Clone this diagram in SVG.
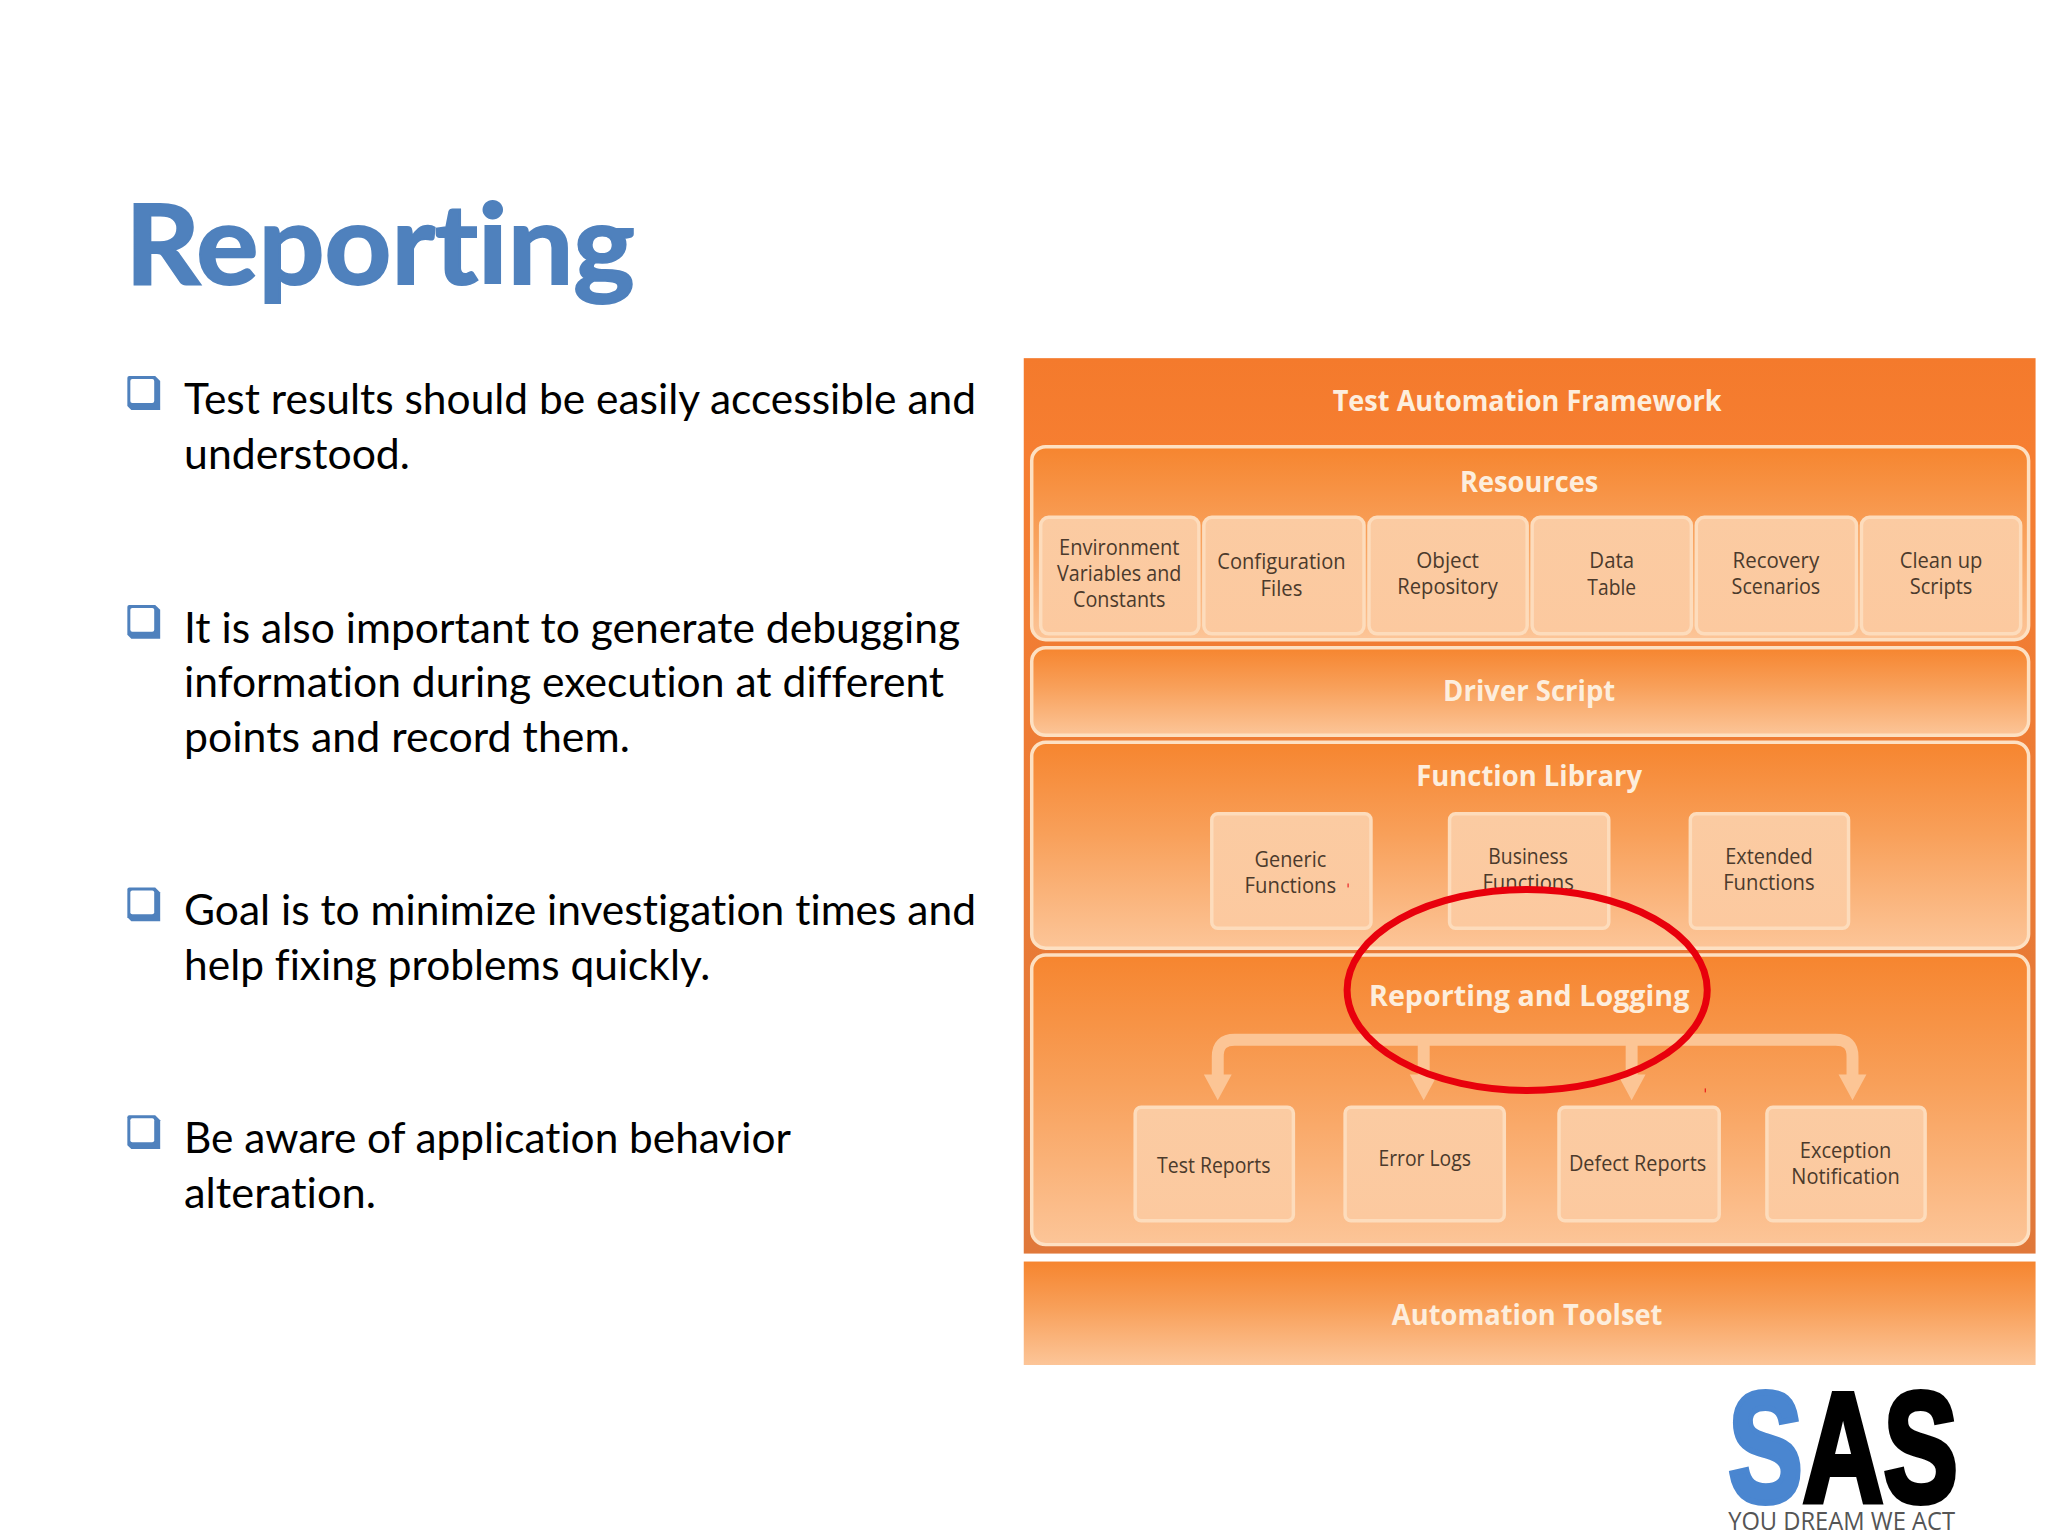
<svg xmlns="http://www.w3.org/2000/svg" width="2048" height="1536" viewBox="0 0 2048 1536">
<style>
text{font-variant-ligatures:none}
.title{font-family:"Lato","Liberation Sans",sans-serif;font-weight:700;font-size:112px;fill:#4f81bd;stroke:#4f81bd;stroke-width:2}
.body{font-family:"Lato","Liberation Sans",sans-serif;font-size:43px;fill:#000}
.hd{font-family:"Open Sans","Liberation Sans",sans-serif;font-weight:700;font-size:29px;fill:#fdeedd;text-anchor:middle}
.bx{font-family:"Open Sans","Liberation Sans",sans-serif;font-size:21px;fill:#4b3a2c;text-anchor:middle}
.panel{fill:url(#pg);stroke:#fde0c2;stroke-width:3.5}
.box{fill:url(#bg);stroke:#fddcbc;stroke-width:3.5}
.bar{fill:none;stroke:#fcc595;stroke-width:12}
.head{fill:#fcc595}
.bul{fill:#4f81bd}
.bulin{fill:#fff}
</style>
<defs>
<linearGradient id="fg" x1="0" y1="0" x2="0" y2="1"><stop offset="0" stop-color="#f47a2c"/><stop offset="0.1" stop-color="#f67e31"/><stop offset="1" stop-color="#e0783a"/></linearGradient>
<linearGradient id="pg" x1="0" y1="0" x2="0" y2="1"><stop offset="0" stop-color="#f6852f"/><stop offset="0.45" stop-color="#f8a05a"/><stop offset="1" stop-color="#fcc598"/></linearGradient>
<linearGradient id="bg" x1="0" y1="0" x2="0" y2="1"><stop offset="0" stop-color="#fbcba2"/><stop offset="1" stop-color="#fcc99f"/></linearGradient>
<clipPath id="outside"><path clip-rule="evenodd" d="M1000 700H2048V1300H1000ZM1354 995a181 101 0 1 0 362 0a181 101 0 1 0 -362 0Z"/></clipPath>
</defs>
<rect width="2048" height="1536" fill="#fff"/>
<g transform="scale(0.9949)">
<g id="title"><text class="title" x="126" y="285" textLength="512" lengthAdjust="spacingAndGlyphs">Reporting</text></g>
<g id="bullets">
<g id="bullet-1"><path class="bul" d="M128 380q0-2 2-2h26l5 5v29h-29l-4-4z"/><rect class="bulin" x="131" y="381" width="24" height="24" rx="2"/>
<text class="body" x="185" y="416" textLength="796" lengthAdjust="spacingAndGlyphs">Test results should be easily accessible and</text>
<text class="body" x="185" y="471" textLength="227" lengthAdjust="spacingAndGlyphs">understood.</text></g>
<g id="bullet-2"><path class="bul" d="M128 610q0-2 2-2h26l5 5v29h-29l-4-4z"/><rect class="bulin" x="131" y="611" width="24" height="24" rx="2"/>
<text class="body" x="185" y="646" textLength="780" lengthAdjust="spacingAndGlyphs">It is also important to generate debugging</text>
<text class="body" x="185" y="701" textLength="764" lengthAdjust="spacingAndGlyphs">information during execution at different</text>
<text class="body" x="185" y="756" textLength="448" lengthAdjust="spacingAndGlyphs">points and record them.</text></g>
<g id="bullet-3"><path class="bul" d="M128 894q0-2 2-2h26l5 5v29h-29l-4-4z"/><rect class="bulin" x="131" y="895" width="24" height="24" rx="2"/>
<text class="body" x="185" y="930" textLength="796" lengthAdjust="spacingAndGlyphs">Goal is to minimize investigation times and</text>
<text class="body" x="185" y="985" textLength="529" lengthAdjust="spacingAndGlyphs">help fixing problems quickly.</text></g>
<g id="bullet-4"><path class="bul" d="M128 1123q0-2 2-2h26l5 5v29h-29l-4-4z"/><rect class="bulin" x="131" y="1124" width="24" height="24" rx="2"/>
<text class="body" x="185" y="1159" textLength="610" lengthAdjust="spacingAndGlyphs">Be aware of application behavior</text>
<text class="body" x="185" y="1214" textLength="193" lengthAdjust="spacingAndGlyphs">alteration.</text></g>
</g>
<g id="framework"><rect x="1029" y="360" width="1017" height="900" fill="url(#fg)"/>
<text class="hd" x="1535" y="413" textLength="391" lengthAdjust="spacingAndGlyphs">Test Automation Framework</text></g>
<g id="resources"><rect class="panel" x="1037" y="449" width="1002" height="194" rx="14"/>
<text class="hd" x="1537" y="495" textLength="139" lengthAdjust="spacingAndGlyphs">Resources</text></g>
<g id="env"><rect class="box" x="1046" y="520" width="159" height="117" rx="8"/><text class="bx" x="1125" y="558" textLength="121" lengthAdjust="spacingAndGlyphs">Environment</text><text class="bx" x="1125" y="584" textLength="125" lengthAdjust="spacingAndGlyphs">Variables and</text><text class="bx" x="1125" y="610" textLength="93" lengthAdjust="spacingAndGlyphs">Constants</text></g>
<g id="config"><rect class="box" x="1210" y="520" width="161" height="117" rx="8"/><text class="bx" x="1288" y="572" textLength="129" lengthAdjust="spacingAndGlyphs">Configuration</text><text class="bx" x="1288" y="599" textLength="42" lengthAdjust="spacingAndGlyphs">Files</text></g>
<g id="object"><rect class="box" x="1376" y="520" width="159" height="117" rx="8"/><text class="bx" x="1455" y="571" textLength="63" lengthAdjust="spacingAndGlyphs">Object</text><text class="bx" x="1455" y="597" textLength="101" lengthAdjust="spacingAndGlyphs">Repository</text></g>
<g id="data"><rect class="box" x="1540" y="520" width="160" height="117" rx="8"/><text class="bx" x="1620" y="571" textLength="45" lengthAdjust="spacingAndGlyphs">Data</text><text class="bx" x="1620" y="598" textLength="49" lengthAdjust="spacingAndGlyphs">Table</text></g>
<g id="recovery"><rect class="box" x="1705" y="520" width="161" height="117" rx="8"/><text class="bx" x="1785" y="571" textLength="87" lengthAdjust="spacingAndGlyphs">Recovery</text><text class="bx" x="1785" y="597" textLength="89" lengthAdjust="spacingAndGlyphs">Scenarios</text></g>
<g id="cleanup"><rect class="box" x="1871" y="520" width="160" height="117" rx="8"/><text class="bx" x="1951" y="571" textLength="83" lengthAdjust="spacingAndGlyphs">Clean up</text><text class="bx" x="1951" y="597" textLength="63" lengthAdjust="spacingAndGlyphs">Scripts</text></g>
<g id="driver"><rect class="panel" x="1037" y="651" width="1002" height="88" rx="14"/><text class="hd" x="1537" y="705" textLength="173" lengthAdjust="spacingAndGlyphs">Driver Script</text></g>
<g id="library"><rect class="panel" x="1037" y="746" width="1002" height="207" rx="14"/><text class="hd" x="1537" y="790" textLength="227" lengthAdjust="spacingAndGlyphs">Function Library</text></g>
<g id="generic"><rect class="box" x="1218" y="818" width="160" height="115" rx="6"/><text class="bx" x="1297" y="871" textLength="72" lengthAdjust="spacingAndGlyphs">Generic</text><text class="bx" x="1297" y="898" textLength="92" lengthAdjust="spacingAndGlyphs">Functions</text></g>
<g id="business"><rect class="box" x="1457" y="818" width="160" height="115" rx="6"/><text class="bx" x="1536" y="868" textLength="80" lengthAdjust="spacingAndGlyphs">Business</text><text class="bx" x="1536" y="895" textLength="92" lengthAdjust="spacingAndGlyphs" clip-path="url(#outside)">Functions</text></g>
<g id="extended"><rect class="box" x="1699" y="818" width="159" height="115" rx="6"/><text class="bx" x="1778" y="868" textLength="88" lengthAdjust="spacingAndGlyphs">Extended</text><text class="bx" x="1778" y="895" textLength="92" lengthAdjust="spacingAndGlyphs">Functions</text></g>
<g id="reporting"><rect class="panel" x="1037" y="960" width="1002" height="291" rx="14"/><text class="hd" x="1537" y="1011" textLength="322" lengthAdjust="spacingAndGlyphs">Reporting and Logging</text></g>
<g id="connectors">
<path class="bar" d="M1224 1082V1062q0-17 17-17H1845q17 0 17 17v20"/>
<path class="bar" d="M1431 1045v38M1640 1045v38"/>
<path class="head" d="M1210 1080h28l-14 26zM1417 1080h28l-14 26zM1626 1080h28l-14 26zM1848 1080h28l-14 26z"/>
</g>
<g id="test-reports"><rect class="box" x="1141" y="1113" width="159" height="114" rx="6"/><text class="bx" x="1220" y="1179" textLength="114" lengthAdjust="spacingAndGlyphs">Test Reports</text></g>
<g id="error-logs"><rect class="box" x="1352" y="1113" width="160" height="114" rx="6"/><text class="bx" x="1432" y="1172" textLength="93" lengthAdjust="spacingAndGlyphs">Error Logs</text></g>
<g id="defect-reports"><rect class="box" x="1567" y="1113" width="161" height="114" rx="6"/><text class="bx" x="1646" y="1177" textLength="138" lengthAdjust="spacingAndGlyphs">Defect Reports</text></g>
<g id="exception"><rect class="box" x="1776" y="1113" width="159" height="114" rx="6"/><text class="bx" x="1855" y="1164" textLength="92" lengthAdjust="spacingAndGlyphs">Exception</text><text class="bx" x="1855" y="1190" textLength="109" lengthAdjust="spacingAndGlyphs">Notification</text></g>
<g id="toolset"><rect x="1029" y="1268" width="1017" height="104" fill="url(#pg)"/><text class="hd" x="1535" y="1332" textLength="272" lengthAdjust="spacingAndGlyphs">Automation Toolset</text></g>
<g id="highlight"><ellipse cx="1535" cy="995" rx="181" ry="101" fill="none" stroke="#e8000c" stroke-width="7"/>
<path d="M1355 888v4M1714 1094v4" stroke="#e8000c" stroke-width="1" fill="none"/></g>
<g id="logo">
<text x="1737" y="1509" font-family="Liberation Sans,sans-serif" font-weight="700" font-size="156" stroke-width="6" textLength="231" lengthAdjust="spacingAndGlyphs"><tspan fill="#4a86d0" stroke="#4a86d0">S</tspan><tspan fill="#000" stroke="#000">AS</tspan></text>
<text x="1737" y="1538" font-family="Open Sans,Liberation Sans,sans-serif" font-size="25" fill="#555" textLength="228" lengthAdjust="spacingAndGlyphs">YOU DREAM WE ACT</text>
</g>
</g>
</svg>
